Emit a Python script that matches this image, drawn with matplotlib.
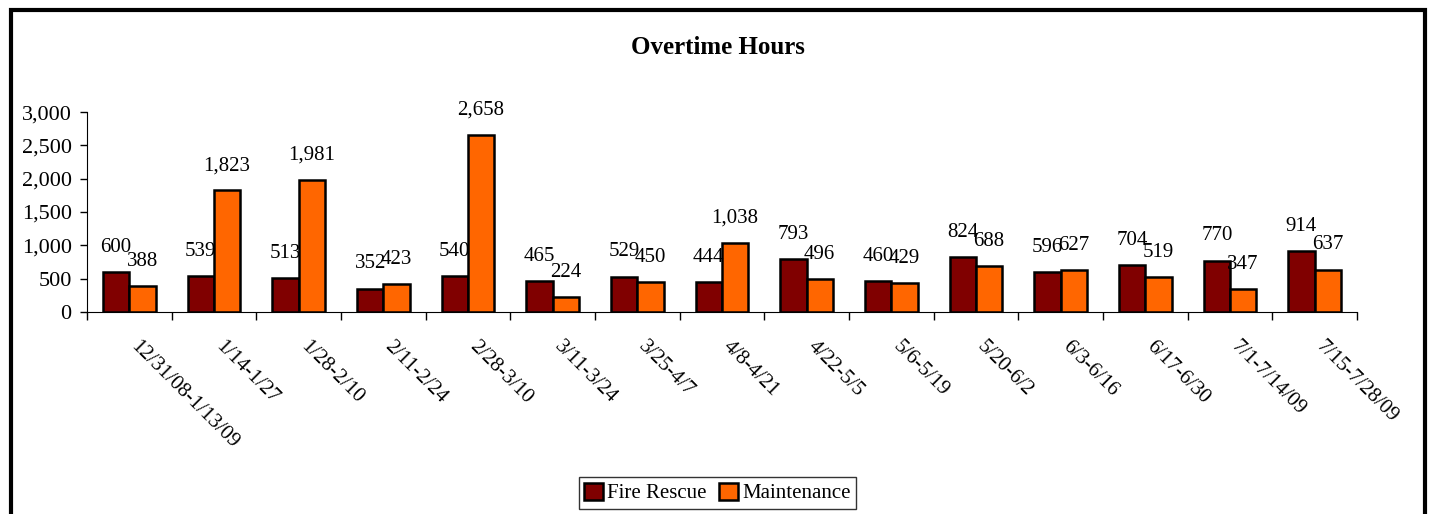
import matplotlib.pyplot as plt
import numpy as np
from matplotlib.patches import Rectangle

periods = [
    "12/31/08-1/13/09", "1/14-1/27", "1/28-2/10", "2/11-2/24", "2/28-3/10",
    "3/11-3/24", "3/25-4/7", "4/8-4/21", "4/22-5/5", "5/6-5/19",
    "5/20-6/2", "6/3-6/16", "6/17-6/30", "7/1-7/14/09", "7/15-7/28/09",
]
fire_rescue = [600, 539, 513, 352, 540, 465, 529, 444, 793, 460, 824, 596, 704, 770, 914]
maintenance = [388, 1823, 1981, 423, 2658, 224, 450, 1038, 496, 429, 688, 627, 519, 347, 637]

plt.rcParams["font.family"] = ["Liberation Serif", "DejaVu Serif"]

fig = plt.figure(figsize=(14.35, 5.14), dpi=100)
ax = fig.add_axes([0.0606, 0.393, 0.885, 0.389])

x = np.arange(len(periods))
w = 0.31
b1 = ax.bar(x - w / 2, fire_rescue, w, color="#800000", edgecolor="black",
            linewidth=1.8, label="Fire Rescue")
b2 = ax.bar(x + w / 2, maintenance, w, color="#FF6600", edgecolor="black",
            linewidth=1.8, label="Maintenance")

# value labels above each bar
for bars, vals in ((b1, fire_rescue), (b2, maintenance)):
    for bar, v in zip(bars, vals):
        ax.annotate(f"{v:,}", (bar.get_x() + bar.get_width() / 2, v),
                    xytext=(0, 11), textcoords="offset points",
                    ha="center", va="bottom", fontsize=15)

ax.set_xlim(-0.5, len(periods) - 0.5)
ax.set_ylim(0, 3000)
ax.set_yticks(np.arange(0, 3001, 500))
ax.set_yticklabels([f"{t:,}" for t in range(0, 3001, 500)], fontsize=16)
ax.set_xticks(np.arange(-0.5, len(periods), 1.0))
ax.set_xticklabels([])
ax.tick_params(axis="x", direction="out", length=6, width=1)
ax.tick_params(axis="y", direction="out", length=5, width=1, pad=6)
ax.spines["top"].set_visible(False)
ax.spines["right"].set_visible(False)

for i, lab in enumerate(periods):
    ax.text(i + 0.05, -0.16, lab, transform=ax.get_xaxis_transform(),
            rotation=-45, rotation_mode="anchor", ha="left", va="center",
            fontsize=15)

fig.text(0.5, 0.908, "Overtime Hours", ha="center", va="center",
         fontsize=18, fontweight="bold")

fig.legend(loc="center", bbox_to_anchor=(0.5, 0.041), ncol=2, fontsize=15,
           frameon=True, fancybox=False, edgecolor="black", handlelength=0.9,
           handleheight=0.9, handletextpad=0.2, columnspacing=0.6,
           borderpad=0.25)

border = Rectangle((0.008, -0.05), 0.985, 1.03, transform=fig.transFigure,
                   fill=False, edgecolor="black", linewidth=3, clip_on=False)
fig.patches.append(border)

fig.savefig("out.png", dpi=100)
